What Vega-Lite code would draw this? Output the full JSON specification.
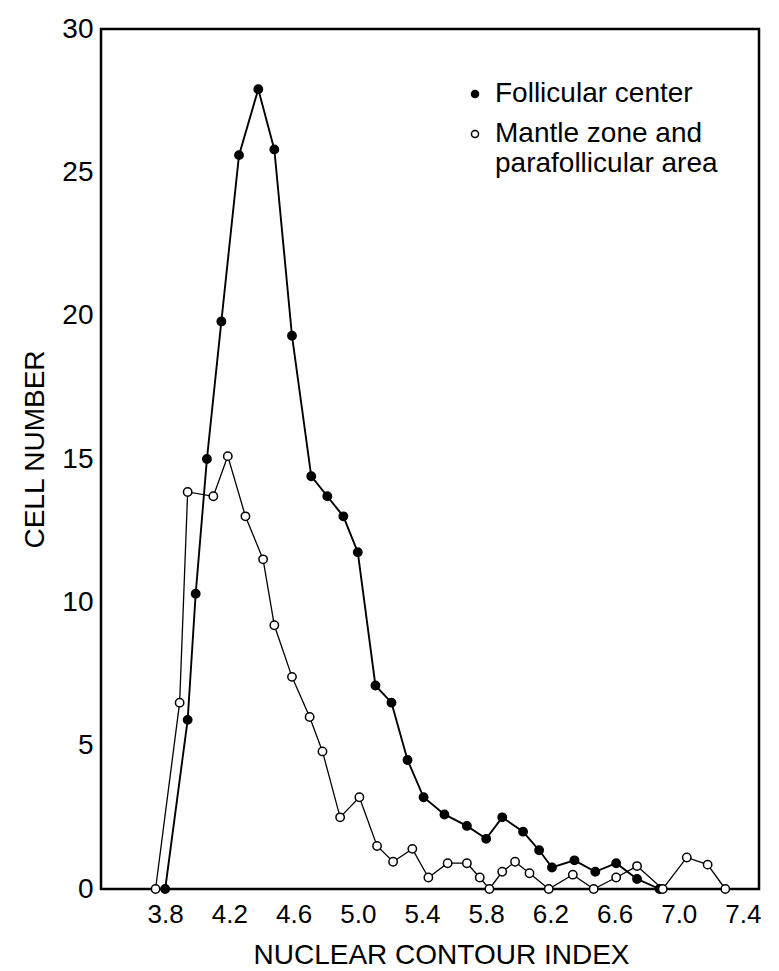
{
  "$schema": "https://vega.github.io/schema/vega-lite/v6.json",
  "width": 658,
  "height": 860,
  "autosize": {"type": "none"},
  "padding": {"left": 101, "top": 29, "right": 20, "bottom": 82},
  "background": "white",
  "config": {
    "view": {"stroke": "black", "strokeWidth": 2.5},
    "font": "Liberation Sans",
    "axis": {"domain": false, "ticks": false, "grid": false, "labelColor": "black", "titleColor": "black", "titleFontWeight": "normal", "labelFlush": false}
  },
  "data": {
    "values": [
      {"series": "Follicular center", "nci": 3.80, "cells": 0},
      {"series": "Follicular center", "nci": 3.94, "cells": 5.9},
      {"series": "Follicular center", "nci": 3.99, "cells": 10.3},
      {"series": "Follicular center", "nci": 4.06, "cells": 15.0},
      {"series": "Follicular center", "nci": 4.15, "cells": 19.8},
      {"series": "Follicular center", "nci": 4.26, "cells": 25.6},
      {"series": "Follicular center", "nci": 4.38, "cells": 27.9},
      {"series": "Follicular center", "nci": 4.48, "cells": 25.8},
      {"series": "Follicular center", "nci": 4.59, "cells": 19.3},
      {"series": "Follicular center", "nci": 4.71, "cells": 14.4},
      {"series": "Follicular center", "nci": 4.81, "cells": 13.7},
      {"series": "Follicular center", "nci": 4.91, "cells": 13.0},
      {"series": "Follicular center", "nci": 5.00, "cells": 11.75},
      {"series": "Follicular center", "nci": 5.11, "cells": 7.1},
      {"series": "Follicular center", "nci": 5.21, "cells": 6.5},
      {"series": "Follicular center", "nci": 5.31, "cells": 4.5},
      {"series": "Follicular center", "nci": 5.41, "cells": 3.2},
      {"series": "Follicular center", "nci": 5.54, "cells": 2.6},
      {"series": "Follicular center", "nci": 5.68, "cells": 2.2},
      {"series": "Follicular center", "nci": 5.80, "cells": 1.75},
      {"series": "Follicular center", "nci": 5.90, "cells": 2.5},
      {"series": "Follicular center", "nci": 6.03, "cells": 2.0},
      {"series": "Follicular center", "nci": 6.13, "cells": 1.35},
      {"series": "Follicular center", "nci": 6.21, "cells": 0.75},
      {"series": "Follicular center", "nci": 6.35, "cells": 1.0},
      {"series": "Follicular center", "nci": 6.48, "cells": 0.6},
      {"series": "Follicular center", "nci": 6.61, "cells": 0.9},
      {"series": "Follicular center", "nci": 6.74, "cells": 0.35},
      {"series": "Follicular center", "nci": 6.88, "cells": 0},
      {"series": "Mantle zone and parafollicular area", "nci": 3.74, "cells": 0},
      {"series": "Mantle zone and parafollicular area", "nci": 3.89, "cells": 6.5},
      {"series": "Mantle zone and parafollicular area", "nci": 3.94, "cells": 13.85},
      {"series": "Mantle zone and parafollicular area", "nci": 4.10, "cells": 13.7},
      {"series": "Mantle zone and parafollicular area", "nci": 4.19, "cells": 15.1},
      {"series": "Mantle zone and parafollicular area", "nci": 4.30, "cells": 13.0},
      {"series": "Mantle zone and parafollicular area", "nci": 4.41, "cells": 11.5},
      {"series": "Mantle zone and parafollicular area", "nci": 4.48, "cells": 9.2},
      {"series": "Mantle zone and parafollicular area", "nci": 4.59, "cells": 7.4},
      {"series": "Mantle zone and parafollicular area", "nci": 4.70, "cells": 6.0},
      {"series": "Mantle zone and parafollicular area", "nci": 4.78, "cells": 4.8},
      {"series": "Mantle zone and parafollicular area", "nci": 4.89, "cells": 2.5},
      {"series": "Mantle zone and parafollicular area", "nci": 5.01, "cells": 3.2},
      {"series": "Mantle zone and parafollicular area", "nci": 5.12, "cells": 1.5},
      {"series": "Mantle zone and parafollicular area", "nci": 5.22, "cells": 0.95},
      {"series": "Mantle zone and parafollicular area", "nci": 5.34, "cells": 1.4},
      {"series": "Mantle zone and parafollicular area", "nci": 5.44, "cells": 0.4},
      {"series": "Mantle zone and parafollicular area", "nci": 5.56, "cells": 0.9},
      {"series": "Mantle zone and parafollicular area", "nci": 5.68, "cells": 0.9},
      {"series": "Mantle zone and parafollicular area", "nci": 5.76, "cells": 0.4},
      {"series": "Mantle zone and parafollicular area", "nci": 5.82, "cells": 0},
      {"series": "Mantle zone and parafollicular area", "nci": 5.90, "cells": 0.6},
      {"series": "Mantle zone and parafollicular area", "nci": 5.98, "cells": 0.95},
      {"series": "Mantle zone and parafollicular area", "nci": 6.07, "cells": 0.55},
      {"series": "Mantle zone and parafollicular area", "nci": 6.19, "cells": 0},
      {"series": "Mantle zone and parafollicular area", "nci": 6.34, "cells": 0.5},
      {"series": "Mantle zone and parafollicular area", "nci": 6.47, "cells": 0},
      {"series": "Mantle zone and parafollicular area", "nci": 6.61, "cells": 0.4},
      {"series": "Mantle zone and parafollicular area", "nci": 6.74, "cells": 0.8},
      {"series": "Mantle zone and parafollicular area", "nci": 6.90, "cells": 0},
      {"series": "Mantle zone and parafollicular area", "nci": 7.05, "cells": 1.1},
      {"series": "Mantle zone and parafollicular area", "nci": 7.18, "cells": 0.85},
      {"series": "Mantle zone and parafollicular area", "nci": 7.29, "cells": 0}
    ]
  },
  "encoding": {
    "x": {
      "field": "nci", "type": "quantitative",
      "scale": {"domain": [3.4, 7.5], "nice": false, "zero": false},
      "axis": {
        "values": [3.8, 4.2, 4.6, 5.0, 5.4, 5.8, 6.2, 6.6, 7.0, 7.4],
        "format": ".1f", "labelFontSize": 26, "labelPadding": 12,
        "title": "NUCLEAR CONTOUR INDEX", "titleFontSize": 28, "titlePadding": 14, "titleX": 340
      }
    },
    "y": {
      "field": "cells", "type": "quantitative",
      "scale": {"domain": [0, 30], "nice": false},
      "axis": {
        "values": [0, 5, 10, 15, 20, 25, 30],
        "labelFontSize": 28, "labelPadding": 8,
        "title": "CELL NUMBER", "titleFontSize": 28, "titlePadding": 12, "titleY": 420
      }
    }
  },
  "layer": [
    {
      "transform": [{"filter": "datum.series == 'Mantle zone and parafollicular area'"}],
      "mark": {"type": "line", "color": "black", "strokeWidth": 1.3}
    },
    {
      "transform": [{"filter": "datum.series == 'Follicular center'"}],
      "mark": {"type": "line", "color": "black", "strokeWidth": 1.9}
    },
    {
      "mark": {"type": "point", "shape": "circle", "filled": true, "stroke": "black", "strokeWidth": 1.5, "size": 70, "opacity": 1},
      "encoding": {
        "fill": {
          "field": "series", "type": "nominal",
          "scale": {"domain": ["Follicular center", "Mantle zone and parafollicular area"], "range": ["black", "white"]},
          "legend": {
            "title": null, "orient": "none", "legendX": 360, "legendY": 51,
            "labelFontSize": 28, "labelColor": "black", "labelLimit": 400,
            "labelExpr": "datum.label == 'Mantle zone and parafollicular area' ? ['Mantle zone and', 'parafollicular area'] : datum.label",
            "symbolType": "circle", "symbolSize": 50, "symbolStrokeColor": "black", "symbolStrokeWidth": 1.5,
            "labelOffset": 6, "rowPadding": 12
          }
        }
      }
    }
  ]
}
